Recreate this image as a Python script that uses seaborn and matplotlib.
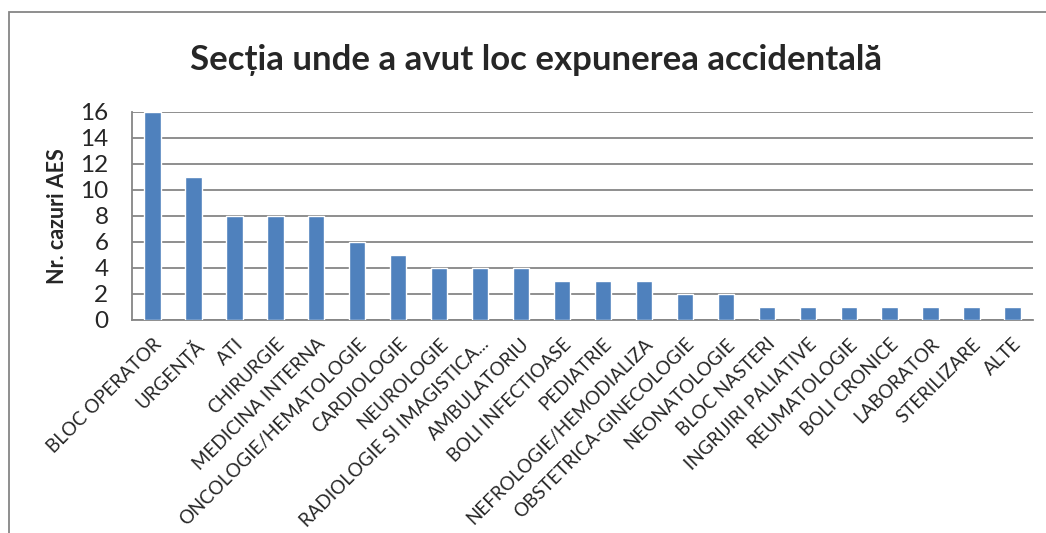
import matplotlib
matplotlib.use("Agg")
import matplotlib.pyplot as plt
import seaborn as sns
import pandas as pd
import numpy as np
from matplotlib.patches import Rectangle

categories = ["BLOC OPERATOR", "URGENȚĂ", "ATI", "CHIRURGIE", "MEDICINA INTERNA",
              "ONCOLOGIE/HEMATOLOGIE", "CARDIOLOGIE", "NEUROLOGIE",
              "RADIOLOGIE SI IMAGISTICA...", "AMBULATORIU", "BOLI INFECTIOASE",
              "PEDIATRIE", "NEFROLOGIE/HEMODIALIZA", "OBSTETRICA-GINECOLOGIE",
              "NEONATOLOGIE", "BLOC NASTERI", "INGRIJIRI PALIATIVE", "REUMATOLOGIE",
              "BOLI CRONICE", "LABORATOR", "STERILIZARE", "ALTE"]
values = [16, 11, 8, 8, 8, 6, 5, 4, 4, 4, 3, 3, 3, 2, 2, 1, 1, 1, 1, 1, 1, 1]
y_ticks = [0, 2, 4, 6, 8, 10, 12, 14, 16]
title = "Secția unde a avut loc expunerea accidentală"
ylabel = "Nr. cazuri AES"

sns.set_style("white")
plt.rcParams['font.family'] = ['Lato', 'DejaVu Sans']

W, H = 1046, 533
fig = plt.figure(figsize=(W / 100, H / 100), dpi=100)
ax = fig.add_axes([132 / W, 1 - 320 / H, (1033 - 132) / W, (320 - 112) / H])

df = pd.DataFrame({"cat": categories, "val": values})
sns.barplot(data=df, x="cat", y="val", color="#4F81BD", saturation=1, width=0.4, ax=ax, zorder=3)

grid_c = "#868686"
ax.set_ylim(0, 16)
ax.set_xlim(-0.5, len(categories) - 0.5)
ax.set_yticks(y_ticks)
ax.set_yticklabels([str(t) for t in y_ticks], fontsize=17.5)
ax.yaxis.grid(True, color=grid_c, linewidth=1.3, zorder=0)
ax.set_axisbelow(True)
for s in ["top", "right"]:
    ax.spines[s].set_visible(False)
for s in ["left", "bottom"]:
    ax.spines[s].set_color(grid_c)
    ax.spines[s].set_linewidth(1.3)
ax.tick_params(axis="y", direction="out", length=7, width=1.3, color=grid_c, pad=10)

ax.set_xticks(np.arange(len(categories)))
ax.set_xticklabels(categories, rotation=45, ha="right", rotation_mode="anchor", fontsize=13.5)
ax.tick_params(axis="x", which="major", length=0, pad=11)
ax.set_xticks(np.arange(len(categories) + 1) - 0.5, minor=True)
ax.tick_params(axis="x", which="minor", direction="out", length=6, width=1.3, color=grid_c)

ax.set_xlabel("")
ax.set_ylabel(ylabel, fontsize=15.5, fontweight="bold", labelpad=9)

fig.text(536 / W, 1 - 60 / H, title, ha="center", va="center", fontsize=25, fontweight="bold")

fig.patches.append(Rectangle((9 / W, -0.1), 1.2, 1 - 12 / H + 0.1, transform=fig.transFigure,
                             fill=False, edgecolor=grid_c, linewidth=1.3))

fig.savefig("out.png", dpi=100, facecolor="white")
